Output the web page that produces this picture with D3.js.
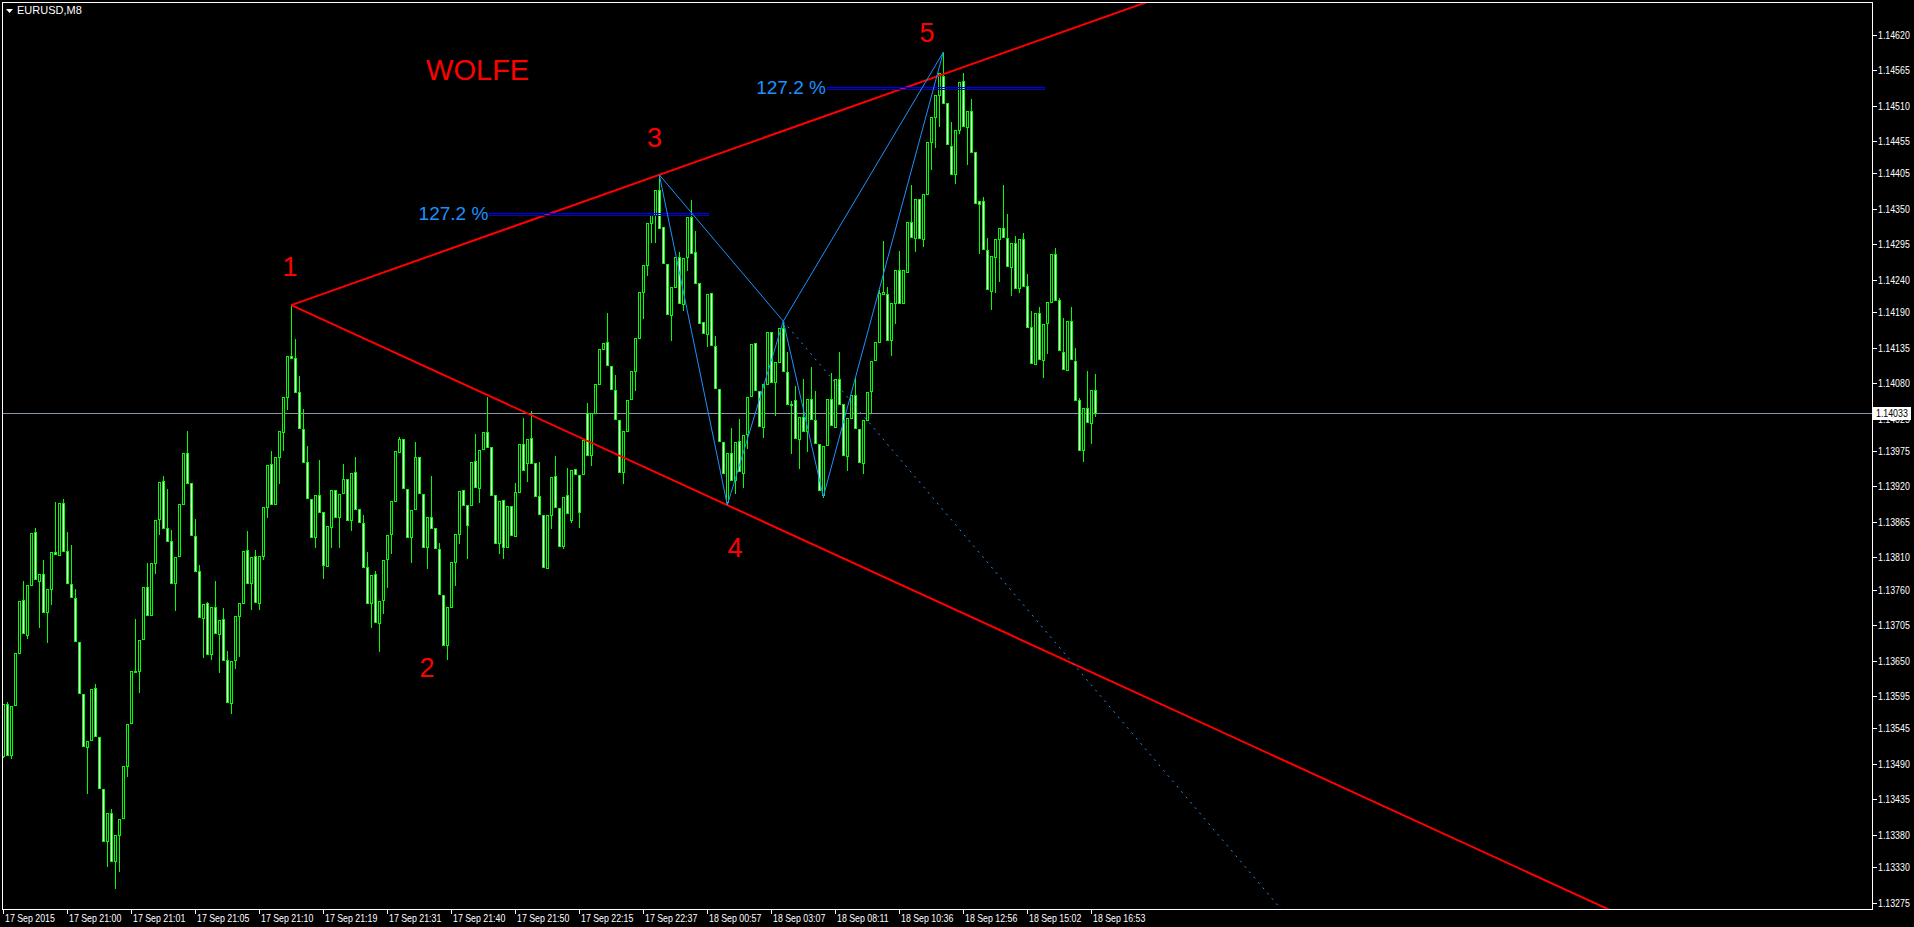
<!DOCTYPE html>
<html><head><meta charset="utf-8">
<script src="https://cdn.jsdelivr.net/npm/d3@7"></script>
<style>
html,body{margin:0;padding:0;background:#000;overflow:hidden}
svg{display:block}
</style></head><body>
<svg id="chart" width="1914" height="927"></svg>
<script>
// ---------------- DATA ----------------
const symbolTitle = "EURUSD,M8";
const timeLabels = ["17 Sep 2015","17 Sep 21:00","17 Sep 21:01","17 Sep 21:05","17 Sep 21:10","17 Sep 21:19","17 Sep 21:31","17 Sep 21:40","17 Sep 21:50","17 Sep 22:15","17 Sep 22:37","18 Sep 00:57","18 Sep 03:07","18 Sep 08:11","18 Sep 10:36","18 Sep 12:56","18 Sep 15:02","18 Sep 16:53"];
const barsPerTimeLabel = 16;
const priceTicks = [1.14620,1.14565,1.14510,1.14455,1.14405,1.14350,1.14295,1.14240,1.14190,1.14135,1.14080,1.14025,1.13975,1.13920,1.13865,1.13810,1.13760,1.13705,1.13650,1.13595,1.13545,1.13490,1.13435,1.13380,1.13330,1.13275];
const lastPrice = 1.14033;
const priceMin = 1.13265, priceMax = 1.14670;

// OHLC in points (1 point = 0.00001)
const openPts = [
113502,113583,113504,113581,113662,113744,113690,113767,113849,113773,
113784,113725,113761,113818,113814,113894,113820,113769,113747,113679,
113598,113516,113527,113608,113532,113451,113370,113414,113339,113380,
113406,113487,113553,113632,113634,113684,113764,113721,113801,113870,
113928,113856,113835,113770,113812,113893,113972,113925,113843,113789,
113716,113739,113660,113733,113691,113715,113651,113584,113651,113719,
113739,113821,113770,113812,113739,113812,113888,113955,113893,113966,
114004,114059,114122,114119,114066,114009,113958,113901,113842,113907,
113880,113797,113857,113915,113873,113910,113932,113868,113942,113885,
113863,113795,113739,113784,113708,113744,113808,113846,113897,113973,
113994,113916,113842,113885,113966,113908,113826,113873,113856,113823,
113752,113674,113733,113803,113846,113915,113891,113891,113959,113918,
113978,114004,113981,113907,113832,113899,113826,113890,113843,113911,
113986,113956,113995,113956,113905,113876,113794,113876,113936,113887,
113828,113907,113868,113947,113938,113939,114034,113969,114034,114079,
114133,114144,114107,114070,114023,113942,114006,114056,114099,114150,
114221,114263,114328,114341,114380,114322,114265,114186,114229,114276,
114203,114276,114338,114283,114235,114175,114156,114220,114138,114071,
113989,113896,113972,113930,113990,113941,114001,114060,114142,114068,
114012,114079,114159,114082,114113,114166,114097,114048,114054,113994,
114028,114006,114056,114023,113986,113907,113984,114056,114012,114087,
114048,113967,114026,114062,114009,113956,114023,114068,114116,114144,
114218,114218,114147,114204,114255,114204,114252,114330,114305,114366,
114304,114373,114454,114493,114527,114556,114514,114448,114404,114473,
114548,114477,114502,114438,114362,114362,114286,114223,114276,114304,
114321,114305,114260,114297,114228,114304,114231,114167,114110,114189,
114116,114173,114206,114280,114209,114128,114100,114176,114114,114054,
113977,114042,114018,114070];
const highPts = [
113583,113586,113580,113662,113742,113773,113767,113848,113856,113784,
113806,113761,113818,113896,113894,113901,113849,113829,113761,113679,
113598,113525,113606,113614,113532,113451,113414,113420,113380,113405,
113487,113552,113634,113715,113682,113764,113801,113801,113868,113927,
113936,113916,113853,113811,113893,113972,114006,113925,113870,113798,
113738,113741,113733,113773,113713,113732,113665,113649,113719,113739,
113820,113851,113811,113821,113812,113888,113953,113975,113966,114006,
114059,114122,114201,114149,114091,114040,113983,113901,113907,113961,
113880,113859,113915,113915,113908,113955,113932,113941,113966,113885,
113876,113818,113783,113789,113742,113806,113845,113897,113975,113997,
113994,113916,113884,113989,113966,113908,113873,113936,113856,113832,
113752,113733,113803,113846,113913,113915,113891,113958,114001,113977,
114004,114059,113981,113907,113897,113899,113890,113890,113925,113986,
114026,113994,114037,113956,113958,113876,113876,113935,113967,113887,
113904,113949,113946,113947,113938,113992,114049,114034,114079,114133,
114142,114189,114107,114093,114023,114006,114054,114099,114150,114221,
114263,114328,114341,114380,114403,114322,114265,114229,114276,114283,
114274,114338,114364,114316,114235,114175,114218,114220,114153,114071,
113989,113972,114011,113989,114025,114000,114059,114141,114142,114068,
114079,114159,114159,114113,114166,114176,114128,114052,114076,114028,
114087,114056,114105,114068,113986,113983,114056,114096,114087,114128,
114048,114026,114062,114090,114009,114023,114066,114114,114144,114225,
114300,114229,114204,114255,114285,114255,114330,114387,114366,114366,
114373,114454,114493,114527,114561,114593,114514,114485,114473,114547,
114561,114502,114521,114438,114362,114369,114305,114277,114304,114321,
114387,114342,114297,114308,114304,114313,114249,114192,114189,114198,
114172,114206,114280,114290,114212,114181,114176,114198,114135,114057,
114042,114099,114070,114094];
const lowPts = [
113501,113504,113499,113581,113662,113693,113685,113767,113777,113702,
113725,113679,113738,113815,113814,113820,113770,113749,113680,113600,
113518,113445,113527,113533,113453,113370,113332,113339,113298,113324,
113406,113471,113553,113632,113601,113684,113721,113721,113786,113846,
113856,113835,113770,113729,113812,113893,113925,113845,113789,113718,
113656,113660,113653,113693,113632,113651,113586,113569,113639,113657,
113739,113770,113730,113741,113730,113808,113873,113893,113893,113925,
113977,114040,114119,114066,114011,113958,113902,113842,113826,113880,
113778,113797,113826,113873,113826,113910,113868,113853,113885,113865,
113795,113739,113702,113710,113665,113724,113764,113817,113897,113973,
113918,113842,113803,113885,113910,113826,113794,113856,113825,113753,
113674,113653,113733,113767,113832,113891,113809,113891,113919,113896,
113978,113981,113907,113832,113817,113809,113826,113845,113843,113911,
113946,113928,113956,113905,113877,113795,113794,113856,113888,113828,
113825,113879,113865,113939,113857,113939,113969,113953,114034,114079,
114133,114108,114071,114025,113942,113925,114006,114056,114070,114150,
114181,114248,114299,114299,114321,114266,114187,114147,114229,114204,
114193,114255,114282,114235,114173,114158,114138,114139,114073,113990,
113941,113891,113930,113910,113944,113919,113980,114060,114070,114014,
113997,114079,114082,114031,114113,114099,114048,113972,113995,113949,
114006,113975,114025,113987,113915,113904,113984,114015,114012,114048,
113969,113946,114026,114011,113958,113941,114023,114035,114116,114144,
114218,114147,114124,114173,114204,114204,114252,114307,114285,114305,
114293,114373,114412,114446,114479,114514,114451,114404,114390,114468,
114479,114420,114438,114359,114282,114288,114226,114195,114221,114238,
114307,114262,114217,114228,114221,114231,114167,114111,114110,114118,
114090,114127,114206,114209,114131,114102,114100,114118,114054,113977,
113959,114020,113987,114029];
const closePts = [
113583,113504,113580,113662,113742,113693,113767,113848,113777,113784,
113725,113761,113818,113815,113894,113820,113770,113749,113680,113600,
113518,113525,113606,113533,113453,113370,113414,113339,113380,113405,
113487,113552,113634,113634,113682,113764,113721,113801,113868,113927,
113856,113835,113770,113811,113893,113972,113925,113845,113789,113718,
113738,113660,113733,113693,113713,113651,113586,113649,113719,113739,
113820,113770,113811,113741,113812,113888,113953,113893,113966,114006,
114059,114122,114119,114066,114011,113958,113902,113842,113907,113880,
113798,113859,113915,113873,113908,113932,113868,113941,113885,113865,
113795,113739,113783,113710,113742,113806,113845,113897,113975,113994,
113918,113842,113884,113966,113910,113826,113873,113856,113825,113753,
113674,113733,113803,113846,113913,113891,113860,113958,113919,113977,
114004,113981,113907,113832,113897,113826,113890,113845,113911,113986,
113946,113994,113956,113905,113877,113795,113876,113935,113888,113828,
113904,113879,113946,113939,113880,113992,113969,114034,114079,114133,
114142,114108,114071,114025,113942,114006,114054,114099,114150,114221,
114263,114328,114341,114380,114321,114266,114187,114229,114276,114204,
114274,114338,114282,114235,114173,114158,114218,114139,114073,113990,
113941,113972,113930,113989,113944,114000,114059,114141,114070,114014,
114079,114159,114082,114113,114166,114099,114048,114046,113995,114028,
114006,114056,114025,113987,113915,113983,114056,114015,114087,114048,
113969,114026,114062,114011,113958,114023,114066,114114,114144,114220,
114221,114147,114204,114255,114204,114255,114330,114307,114366,114305,
114373,114454,114493,114527,114561,114514,114451,114404,114473,114547,
114479,114502,114438,114359,114358,114288,114226,114277,114304,114321,
114307,114262,114297,114228,114304,114231,114167,114111,114189,114118,
114172,114206,114280,114209,114131,114102,114176,114118,114054,113977,
114042,114020,114070,114033];

// Wolfe wave annotation
const wolfeTitle = "WOLFE";
const wolfeTitleBar = 105.7, wolfeTitlePrice = 1.14550;
const wolfeLabels = ["1","2","3","4","5"];
const wolfeLabelBars = [71.7, 105.9, 162.8, 182.9, 230.9];
const wolfeLabelPrices = [1.14246, 1.13625, 1.14446, 1.13811, 1.14609];
const point1 = {bar: 72, price: 1.14201};
const point3 = {bar: 164, price: 1.14403};
const point4 = {bar: 181, price: 1.13891};
const zigBars = [164, 181, 195, 205, 235];
const zigPrices = [1.14403, 1.13891, 1.14176, 1.13904, 1.14593];
const fibText = "127.2 %";
const fibPrices = [1.14342, 1.14538];
const fibStartBars = [121.5, 205.9];
const fibEndBars = [176.2, 260.2];

// ---------------- DRAW ----------------
const W = 1914, H = 927;
const L = 2.5, T = 2.5, R = 1872.5, B = 909.5;
const svg = d3.select("#chart");
svg.append("rect").attr("width", W).attr("height", H).attr("fill", "#000");

const x = d3.scaleLinear().domain([0, 467]).range([3.3, 3.3 + 4 * 467]);
const y = d3.scaleLinear().domain([priceMin, priceMax]).range([909, 2.5]);

svg.append("defs").append("clipPath").attr("id", "plot")
  .append("rect").attr("x", L).attr("y", T).attr("width", R - L).attr("height", B - T);

const plot = svg.append("g").attr("clip-path", "url(#plot)");

const candles = openPts.map((o, i) => ({
  i, o: o / 1e5, h: highPts[i] / 1e5, l: lowPts[i] / 1e5, c: closePts[i] / 1e5
}));

// price (bid) line
const ly = Math.round(y(lastPrice)) + 0.5;
plot.append("line").attr("x1", L).attr("x2", R).attr("y1", ly).attr("y2", ly)
  .attr("stroke", "#8593a3").attr("stroke-width", 1).attr("shape-rendering", "crispEdges");

// candles
const cg = plot.append("g").attr("shape-rendering", "crispEdges");
candles.forEach(d => {
  const cx = Math.round(x(d.i));
  const hy = Math.round(y(Math.max(d.h, d.o, d.c)));
  const lyy = Math.round(y(Math.min(d.l, d.o, d.c)));
  cg.append("line").attr("x1", cx + 0.5).attr("x2", cx + 0.5)
    .attr("y1", hy).attr("y2", lyy + 1).attr("stroke", "#00ff00").attr("stroke-width", 1);
  const ty = Math.round(y(Math.max(d.o, d.c)));
  const by = Math.round(y(Math.min(d.o, d.c)));
  cg.append("rect").attr("x", cx - 0.5).attr("y", ty + 0.5)
    .attr("width", 2).attr("height", Math.max(by - ty, 1))
    .attr("fill", d.c >= d.o ? "#000" : "#fff")
    .attr("stroke", "#00ff00").attr("stroke-width", 1);
});

// helper: extend a line through A,B to a far bar
function ray(a, b, farBar) {
  const t = (farBar - a.bar) / (b.bar - a.bar);
  return {bar: farBar, price: a.price + (b.price - a.price) * t};
}
const red = "#ff0000", blue = "#1e90ff";

// red channel lines
[[point1, point3], [point1, point4]].forEach(([a, b]) => {
  const e = ray(a, b, 600);
  plot.append("line").attr("x1", x(a.bar)).attr("y1", y(a.price))
    .attr("x2", x(e.bar)).attr("y2", y(e.price))
    .attr("stroke", red).attr("stroke-width", 2);
});

// fib 127.2% rectangles
fibPrices.forEach((p, k) => {
  const yy = Math.round(y(p));
  plot.append("rect").attr("x", Math.round(x(fibStartBars[k])) + 0.5).attr("y", yy - 0.5)
    .attr("width", Math.round(x(fibEndBars[k]) - x(fibStartBars[k]))).attr("height", 2)
    .attr("fill", "none").attr("stroke", "#0000e6").attr("stroke-width", 1)
    .attr("shape-rendering", "crispEdges");
  plot.append("text").attr("x", x(fibStartBars[k]) - 1).attr("y", yy - 1)
    .attr("dy", "0.35em").attr("text-anchor", "end")
    .attr("font-family", "'Liberation Sans', Arial, sans-serif").attr("font-size", 19)
    .attr("fill", blue).text(fibText);
});

// zigzag
const zig = zigBars.map((b, k) => ({bar: b, price: zigPrices[k]}));
const lineGen = d3.line().x(d => x(d.bar)).y(d => y(d.price));
plot.append("path").attr("d", lineGen(zig)).attr("fill", "none")
  .attr("stroke", blue).attr("stroke-width", 1);
plot.append("path").attr("d", lineGen([zig[0], zig[2]])).attr("fill", "none")
  .attr("stroke", blue).attr("stroke-width", 1);
plot.append("path").attr("d", lineGen([zig[2], zig[4]])).attr("fill", "none")
  .attr("stroke", blue).attr("stroke-width", 1);
const dotEnd = ray(zig[0], zig[2], 400);
plot.append("path").attr("d", lineGen([zig[2], dotEnd])).attr("fill", "none")
  .attr("stroke", blue).attr("stroke-width", 1).attr("stroke-dasharray", "2,5");

// labels
const labelFont = "'Liberation Sans', Arial, sans-serif";
plot.append("text").attr("x", x(wolfeTitleBar)).attr("y", y(wolfeTitlePrice))
  .attr("font-family", labelFont).attr("font-size", 29).attr("fill", red).text(wolfeTitle);
wolfeLabels.forEach((t, k) => {
  plot.append("text").attr("x", x(wolfeLabelBars[k])).attr("y", y(wolfeLabelPrices[k]))
    .attr("text-anchor", "middle").attr("font-family", labelFont).attr("font-size", 27)
    .attr("fill", red).text(t);
});

// frame
svg.append("rect").attr("x", L).attr("y", T).attr("width", R - L).attr("height", B - T)
  .attr("fill", "none").attr("stroke", "#fff").attr("stroke-width", 1)
  .attr("shape-rendering", "crispEdges");

// narrow axis text: Liberation Sans squeezed horizontally
const axisFont = "'Liberation Sans', Arial, sans-serif";
const squeeze = 0.8;
function axisText(g, tx, ty, str, fill, dy) {
  return g.append("text")
    .attr("transform", `translate(${tx},${ty}) scale(${squeeze},1)`)
    .attr("dy", dy).attr("font-family", axisFont).attr("font-size", 11)
    .attr("fill", fill).text(str);
}
// price axis
const ya = svg.append("g");
priceTicks.forEach(v => {
  const ty = Math.round(y(v)) + 0.5;
  ya.append("line").attr("x1", R).attr("x2", R + 4).attr("y1", ty).attr("y2", ty)
    .attr("stroke", "#fff").attr("shape-rendering", "crispEdges");
  axisText(ya, 1878, ty, d3.format(".5f")(v), "#fff", "0.35em");
});
// current price label
const cy = Math.round(y(lastPrice));
svg.append("rect").attr("x", 1873).attr("y", cy - 6).attr("width", 38).attr("height", 13).attr("fill", "#fff");
axisText(svg, 1876, cy + 0.5, d3.format(".5f")(lastPrice), "#000", "0.35em");

// time axis
timeLabels.forEach((t, k) => {
  const bx = Math.round(x(k * barsPerTimeLabel)) + 0.5;
  svg.append("line").attr("x1", bx).attr("x2", bx).attr("y1", B).attr("y2", B + 4)
    .attr("stroke", "#fff").attr("shape-rendering", "crispEdges");
  axisText(svg, bx + 1.5, 922, t, "#fff", "0");
});

// title
svg.append("path").attr("d", "M6,9 L13,9 L9.5,13 Z").attr("fill", "#fff");
svg.append("text").attr("x", 17).attr("y", 14)
  .attr("font-family", "'Liberation Sans', Arial, sans-serif").attr("font-size", 11).attr("fill", "#fff")
  .text(symbolTitle);
</script>
</body></html>
